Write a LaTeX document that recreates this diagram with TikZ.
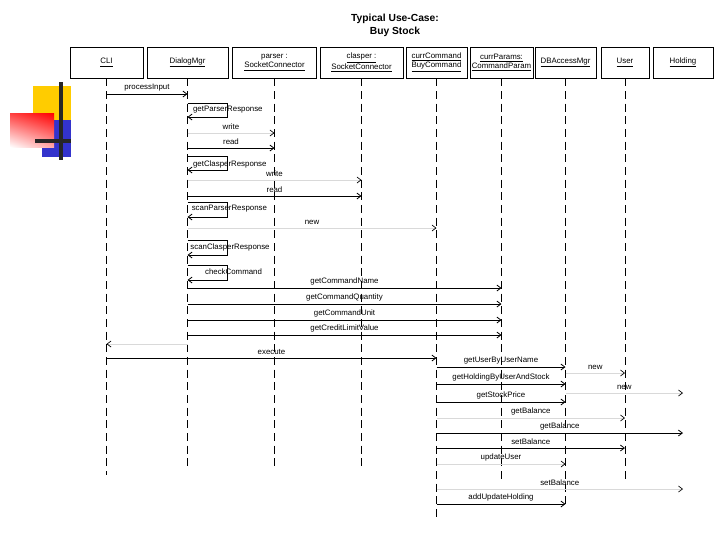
\documentclass[tikz,border=0pt]{standalone}
\usepackage{fontspec}
\setmainfont{Liberation Sans}
\usetikzlibrary{arrows.meta,shadings}
\definecolor{dyellow}{RGB}{255,204,0}
\definecolor{dblue}{RGB}{51,51,204}
\begin{document}
\begin{tikzpicture}[x=0.75pt,y=-0.75pt,
  box/.style={draw,line width=0.6pt,minimum height=23.25pt,inner sep=0pt,align=center,font=\fontsize{5.9}{7}\selectfont},
  life/.style={line width=0.6pt,dash pattern=on 6pt off 3.5pt},
  msg/.style={line width=0.6pt,-{Straight Barb[length=3pt,width=4.5pt]}},
  faint/.style={line width=0.5pt,draw=black!15,-{Straight Barb[length=3pt,width=4.5pt,color=black]}},
  lbl/.style={font=\fontsize{5.9}{7}\selectfont,inner sep=1pt},
  lab/.style={lbl,above,yshift=1.2pt},
  ttl/.style={font=\fontsize{7.7}{9}\selectfont\bfseries,inner sep=0pt},
]
\fill[white] (0,0) rectangle (720,540);
\useasboundingbox (0,0) rectangle (720,540);

% decoration
\fill[dyellow] (33,86) rectangle (71,120);
\fill[dblue] (42,120) rectangle (71,157);
\shade[upper right=red, upper left=red!75!white, lower right=red!35!white, lower left=white] (10,113) rectangle (54,147);
\draw[line width=2.4pt,black!85] (61,82) -- (61,160);
\draw[line width=2.4pt,black!85] (35,141) -- (71,141);

% title
\node[ttl] (t1) at (395,19) {Typical Use-Case:};
\node[ttl] (t2) at (395,32) {Buy Stock};

% header boxes
\node[box,minimum width=54.75pt] (cli) at (106.5,62.5) {\underline{CLI}};
\node[box,minimum width=60.75pt] (dlg) at (187.5,62.5) {\underline{DialogMgr}};
\node[box,minimum width=63pt] (par) at (274.5,62.5) {parser :\\\underline{SocketConnector}};
\node[box,minimum width=62.25pt] (cla) at (361.5,62.5) {\underline{clasper :}\\\underline{SocketConnector}};
\node[box,minimum width=45.75pt] (cmd) at (436.5,62.5) {\underline{currCommand}\\\underline{BuyCommand}};
\node[box,minimum width=47.25pt] (prm) at (501.5,62.5) {\underline{currParams:}\\\underline{CommandParam}};
\node[box,minimum width=45.75pt] (dba) at (565.5,62.5) {\underline{DBAccessMgr}};
\node[box,minimum width=36pt] (usr) at (625,62.5) {\underline{User}};
\node[box,minimum width=45pt] (hld) at (683,62.5) {\underline{Holding}};

% lifelines
\draw[life] (cli.south) -- (cli |- 0,475);
\draw[life] (dlg.south) -- (dlg |- 0,470);
\draw[life] (par.south) -- (par |- 0,470);
\draw[life] (cla.south) -- (cla |- 0,470);
\draw[life] (cmd.south) -- (cmd |- 0,520);
\draw[life] (prm.south) -- (prm |- 0,480);
\draw[life] (dba.south) -- (dba |- 0,507);
\draw[life] (usr.south) -- (usr |- 0,480);

% messages
\draw[msg] (cli |- 0,94) -- node[lab] {processInput} (dlg |- 0,94);

\draw[msg] (dlg |- 0,103) -- ++(40,0) |- (dlg |- 0,117);
\node[lbl,anchor=west,xshift=3pt] (m2) at (dlg |- 0,110) {getParserResponse};

\draw[faint] (dlg |- 0,133) -- node[lab] {write} (par |- 0,133);
\draw[msg] (dlg |- 0,148) -- node[lab] {read} (par |- 0,148);

\draw[msg] (dlg |- 0,156) -- ++(40,0) |- (dlg |- 0,170);
\node[lbl,anchor=west,xshift=3pt] (m5) at (dlg |- 0,164) {getClasperResponse};

\draw[faint] (dlg |- 0,180) -- node[lab] {write} (cla |- 0,180);
\draw[msg] (dlg |- 0,196) -- node[lab] {read} (cla |- 0,196);

\draw[msg] (dlg |- 0,202) -- ++(40,0) |- (dlg |- 0,217);
\node[lbl,anchor=west,xshift=2pt] (m8) at (dlg |- 0,209) {scanParserResponse};

\draw[faint] (dlg |- 0,228) -- node[lab] {new} (cmd |- 0,228);

\draw[msg] (dlg |- 0,240) -- ++(40,0) |- (dlg |- 0,255);
\node[lbl,anchor=west,xshift=1pt] (m10) at (dlg |- 0,247) {scanClasperResponse};

\draw[msg] (dlg |- 0,265) -- ++(40,0) |- (dlg |- 0,280);
\node[lbl,anchor=west,xshift=12pt] (m11) at (dlg |- 0,272) {checkCommand};

\draw[msg] (dlg |- 0,288) -- node[lab] {getCommandName} (prm |- 0,288);
\draw[msg] (dlg |- 0,304) -- node[lab] {getCommandQuantity} (prm |- 0,304);
\draw[msg] (dlg |- 0,320) -- node[lab] {getCommandUnit} (prm |- 0,320);
\draw[msg] (dlg |- 0,335) -- node[lab] {getCreditLimitValue} (prm |- 0,335);

\draw[faint] (dlg |- 0,344) -- (cli |- 0,344);
\draw[msg] (cli |- 0,358) -- node[lab] {execute} (cmd |- 0,358);

\draw[msg] (cmd |- 0,367) -- node[lab] {getUserByUserName} (dba |- 0,367);
\draw[faint] (dba |- 0,373) -- node[lab] {new} (usr |- 0,373);
\draw[msg] (cmd |- 0,384) -- node[lab] {getHoldingByUserAndStock} (dba |- 0,384);
\draw[faint] (dba |- 0,393) -- node[lab] {new} (hld |- 0,393);
\draw[msg] (cmd |- 0,402) -- node[lab] {getStockPrice} (dba |- 0,402);
\draw[faint] (cmd |- 0,418) -- node[lab] {getBalance} (usr |- 0,418);
\draw[msg] (cmd |- 0,433) -- node[lab] {getBalance} (hld |- 0,433);
\draw[msg] (cmd |- 0,448) -- node[lab] {setBalance} (usr |- 0,448);
\draw[faint] (cmd |- 0,464) -- node[lab] {updateUser} (dba |- 0,464);
\draw[faint] (cmd |- 0,489) -- node[lab] {setBalance} (hld |- 0,489);
\draw[msg] (cmd |- 0,504) -- node[lab] {addUpdateHolding} (dba |- 0,504);
\end{tikzpicture}
\end{document}
